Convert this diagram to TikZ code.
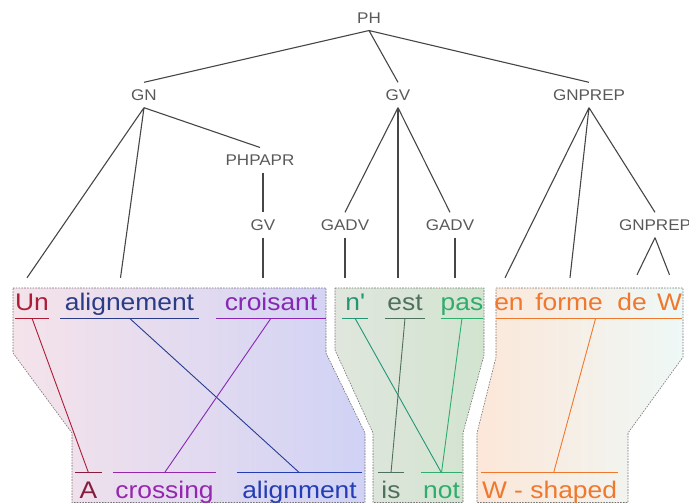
\documentclass[tikz,border=0pt]{standalone}
\usepackage{fontspec}
\setmainfont{Liberation Sans}[FakeStretch=1.1]
\usetikzlibrary{calc}
\definecolor{rouge}{RGB}{172,28,55}
\definecolor{bordeaux}{RGB}{135,28,60}
\definecolor{marine}{RGB}{42,60,135}
\definecolor{bleu}{RGB}{35,62,180}
\definecolor{violet}{RGB}{135,40,180}
\definecolor{mauve}{RGB}{150,38,175}
\definecolor{sarcelle}{RGB}{35,150,118}
\definecolor{gris}{RGB}{80,112,95}
\definecolor{vert}{RGB}{48,172,108}
\definecolor{orangeW}{RGB}{240,120,45}
\definecolor{arbre}{RGB}{70,70,70}
\tikzset{
  cat/.style={text=black!65,font=\fontsize{15.5}{18}\selectfont,inner xsep=2pt,inner ysep=7pt},
  br/.style={draw=arbre,line width=1.1pt},
  mot/.style={font=\fontsize{24}{28}\selectfont,inner sep=0pt,anchor=base,text height=17pt,text depth=8pt},
  motb/.style={font=\fontsize{24}{28}\selectfont,inner sep=0pt,anchor=base,text height=25pt,text depth=0pt},
  sous/.style={line width=1.1pt},
  lien/.style={line width=0.9pt},
  bloc/.style={draw=black!55,line width=0.6pt,dash pattern=on 1.6pt off 1.2pt},
}
\begin{document}
\begin{tikzpicture}[x=1pt,y=-1pt]
  \useasboundingbox (0,0) rectangle (689,504);
  \draw[bloc,left color={rgb,255:red,245;green,227;blue,234},right color={rgb,255:red,208;green,210;blue,245}]
    (13,288) -- (326,288) -- (326,353) -- (365,433) -- (365,502.5) -- (72,502.5) -- (72,433) -- (13,353) -- cycle;
  \draw[bloc,left color={rgb,255:red,224;green,230;blue,221},right color={rgb,255:red,210;green,228;blue,208}]
    (335,288) -- (484,288) -- (484,355) -- (463,433) -- (463,502.5) -- (373,502.5) -- (373,433) -- (335,350) -- cycle;
  \draw[bloc,left color={rgb,255:red,252;green,231;blue,217},right color={rgb,255:red,238;green,248;blue,246}]
    (496,288) -- (683,288) -- (683,357) -- (628,433) -- (628,502.5) -- (477,502.5) -- (477,433) -- (496,357) -- cycle;

  \node[cat] (ph) at (369,18) {PH};
  \node[cat] (gn) at (144,95) {GN};
  \node[cat] (gv) at (398,95) {GV};
  \node[cat] (gp) at (589,95) {GNPREP};
  \node[cat] (pp) at (260,160) {PHPAPR};
  \node[cat] (gvb) at (263,225) {GV};
  \node[cat] (ga) at (345,225) {GADV};
  \node[cat] (gb) at (450,225) {GADV};
  \node[cat] (gq) at (655,225) {GNPREP};

  \node[mot,text=rouge,minimum width=32pt] (un) at (32,310) {Un};
  \node[mot,text=marine,minimum width=139pt] (al) at (129.5,310) {alignement};
  \node[mot,text=violet,minimum width=110pt] (cr) at (271,310) {croisant};
  \node[mot,text=sarcelle,minimum width=26pt] (ne) at (355,310) {n\textquotesingle};
  \node[mot,text=gris,minimum width=40pt] (est) at (405,310) {est};
  \node[mot,text=vert,minimum width=40pt] (pas) at (462,310) {pas};
  \node[mot,text=orangeW] (en) at (509,310) {en};
  \node[mot,text=orangeW] (fo) at (569,310) {forme};
  \node[mot,text=orangeW] (de) at (632,310) {de};
  \node[mot,text=orangeW] (w) at (669.5,310) {W};

  \node[motb,text=bordeaux,minimum width=27pt] (a) at (88.5,498) {A};
  \node[motb,text=mauve,minimum width=103pt] (cs) at (164.5,498) {crossing};
  \node[motb,text=bleu,minimum width=125pt] (am) at (299.5,498) {alignment};
  \node[motb,text=gris,minimum width=26pt] (is) at (391,498) {is};
  \node[motb,text=vert,minimum width=41pt] (no) at (441.5,498) {not};
  \node[motb,text=orangeW,minimum width=137pt] (ws) at (549.5,498) {W - shaped};

  \draw[br] (ph.south) -- (gn.north) (ph.south) -- (gv.north) (ph.south) -- (gp.north);
  \draw[br] (gn.south) -- ([xshift=-5pt,yshift=15pt]un.north)
    (gn.south) -- ([xshift=-9pt,yshift=15pt]al.north) (gn.south) -- (pp.north);
  \draw[br] (gvb.north |- pp.south) -- (gvb.north);
  \draw[br,shorten >=15pt] (gvb.south) -- (gvb.south |- cr.north);
  \draw[br] (gv.south) -- (ga.north) (gv.south) -- (gb.north);
  \draw[br,shorten >=15pt] (gv.south) -- (gv.south |- est.north);
  \draw[br,shorten >=15pt] (ga.south) -- (ga.south |- ne.north);
  \draw[br,shorten >=15pt] ([xshift=5pt]gb.south) -- ([xshift=5pt]gb.south |- pas.north);
  \draw[br] (gp.south) -- ([xshift=-4pt,yshift=15pt]en.north)
    (gp.south) -- ([xshift=1pt,yshift=15pt]fo.north) (gp.south) -- (gq.north);
  \draw[br] (gq.south) -- ([xshift=5pt,yshift=18pt]de.north) (gq.south) -- ([yshift=18pt]w.north);

  \draw[sous,rouge] (un.south west) -- (un.south east);
  \draw[sous,marine] (al.south west) -- (al.south east);
  \draw[sous,violet] (cr.south west) -- (cr.south east);
  \draw[sous,sarcelle] (ne.south west) -- (ne.south east);
  \draw[sous,gris] (est.south west) -- (est.south east);
  \draw[sous,vert] (pas.south west) -- (pas.south east);
  \draw[sous,orangeW] ([xshift=2pt]en.south west) -- (w.south east);
  \draw[sous,bordeaux] (a.north west) -- (a.north east);
  \draw[sous,mauve] (cs.north west) -- (cs.north east);
  \draw[sous,bleu] (am.north west) -- (am.north east);
  \draw[sous,gris] (is.north west) -- (is.north east);
  \draw[sous,vert] (no.north west) -- (no.north east);
  \draw[sous,orangeW] (ws.north west) -- (ws.north east);

  \draw[lien,rouge] (un.south) -- (a.north);
  \draw[lien,marine!80!bleu] (al.south) -- (am.north);
  \draw[lien,violet] (cr.south) -- (cs.north);
  \draw[lien,sarcelle] (ne.south) -- (no.north);
  \draw[lien,gris] (est.south) -- (is.north);
  \draw[lien,vert] (pas.south) -- (no.north);
  \draw[lien,orangeW] ($(en.south west)!.54!(w.south east)$) -- ($(ws.north west)!.53!(ws.north east)$);
\end{tikzpicture}
\end{document}
